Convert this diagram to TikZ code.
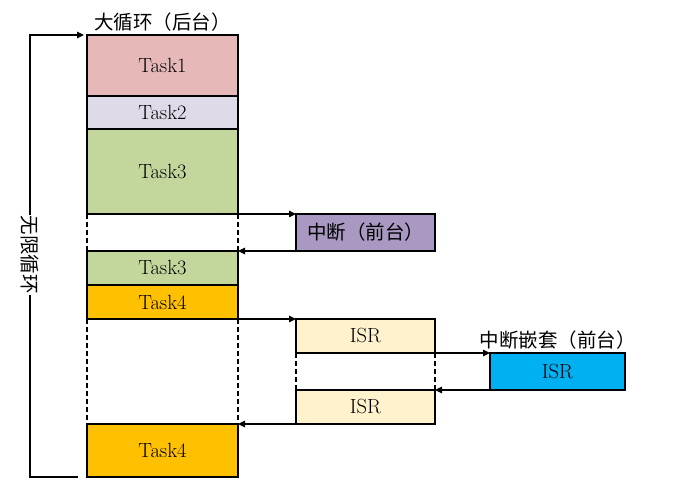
\documentclass[tikz,border=0pt]{standalone}
\usepackage{fontspec}
\newfontfamily\cjk{Noto Sans CJK SC}
\usetikzlibrary{arrows.meta, positioning}
\definecolor{taskred}{HTML}{E6B9B8}
\definecolor{tasklilac}{HTML}{DEDAE7}
\definecolor{taskgreen}{HTML}{C3D69B}
\definecolor{taskorange}{HTML}{FFC000}
\definecolor{irqpurple}{HTML}{A898C2}
\definecolor{isrcream}{HTML}{FFF2CC}
\definecolor{isrblue}{HTML}{00B0F0}

\begin{document}
\begin{tikzpicture}[
  x=1pt, y=1pt,
  node distance=0pt,
  block/.style={draw, line width=1.2pt, outer sep=0pt, inner sep=0pt, minimum width=151pt, font=\fontsize{20.5}{24}\selectfont},
  isrbox/.style={block, minimum width=139pt},
  label/.style={font=\cjk\fontsize{19.5}{23}\selectfont, inner sep=1pt},
  gapline/.style={line width=1.1pt, dash pattern=on 5pt off 3pt},
  arrow/.style={-{Triangle[length=7pt, width=6.5pt]}, line width=1.1pt}
]
  \useasboundingbox (0,0) rectangle (690,492);
  % background loop
  \node[block, anchor=north west, minimum height=61pt, fill=taskred] (t1) at (87,457) {Task1};
  \node[block, below=of t1, minimum height=33pt, fill=tasklilac] (t2) {Task2};
  \node[block, below=of t2, minimum height=85pt, fill=taskgreen] (t3) {Task3};
  \node[block, below=37pt of t3, minimum height=34pt, fill=taskgreen] (t3b) {Task3};
  \node[block, below=of t3b, minimum height=34pt, fill=taskorange] (t4) {Task4};
  \node[block, below=105pt of t4, minimum height=53pt, fill=taskorange] (t4b) {Task4};
  \node[label, above=2pt of t1] (bg) {大循环（后台）};

  % interrupts
  \node[isrbox, anchor=north west, minimum height=37pt, fill=irqpurple] (irq) at ([xshift=58pt]t3.south east) {\cjk\fontsize{19.5}{23}\selectfont 中断（前台）};
  \node[isrbox, anchor=north west, minimum height=34pt, fill=isrcream] (isr1) at ([xshift=58pt]t4.south east) {ISR};
  \node[isrbox, below=37pt of isr1, minimum height=34pt, fill=isrcream] (isr2) {ISR};
  \node[block, anchor=north west, minimum width=135pt, minimum height=37pt, fill=isrblue] (nest) at ([xshift=55pt]isr1.south east) {ISR};
  \node[label, above=2pt of nest] (nestlbl) {中断嵌套（前台）};

  \draw[gapline] (t3.south west) -- (t3b.north west);
  \draw[gapline] (t3.south east) -- (t3b.north east);
  \draw[gapline] (t4.south west) -- (t4b.north west);
  \draw[gapline] (t4.south east) -- (t4b.north east);
  \draw[gapline] (isr1.south west) -- (isr2.north west);
  \draw[gapline] (isr1.south east) -- (isr2.north east);

  \draw[arrow] (t3.south east) -- (irq.north west);
  \draw[arrow] (irq.south west) -- (t3b.north east);
  \draw[arrow] (t4.south east) -- (isr1.north west);
  \draw[arrow] (isr1.south east) -- (nest.north west);
  \draw[arrow] (nest.south west) -- (isr2.north east);
  \draw[arrow] (isr2.south west) -- (t4b.north east);

  % endless loop
  \node[label, rotate=-90] (loop) at (30,237) {无限循环};
  \coordinate (loopend) at ([xshift=-9pt]t4b.south west);
  \coordinate (loopin) at ([xshift=-3pt]t1.north west);
  \draw[line width=1.1pt] (loopend) -| (loop.east);
  \draw[arrow] (loop.west) |- (loopin);
\end{tikzpicture}
\end{document}
